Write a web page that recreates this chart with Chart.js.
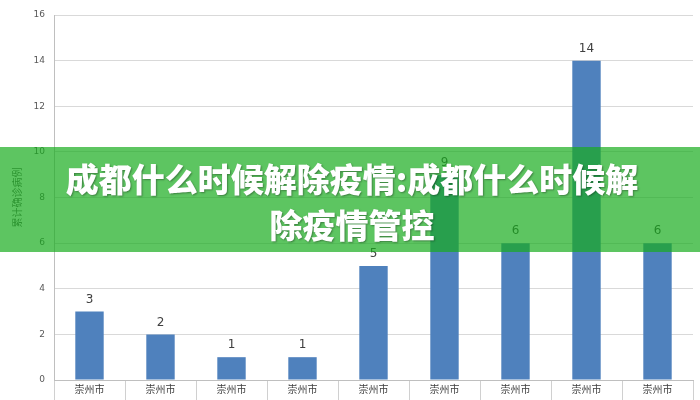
<!DOCTYPE html>
<html lang="zh">
<head>
  <meta charset="UTF-8">
  <title>成都什么时候解除疫情</title>
  <script src="https://cdn.jsdelivr.net/npm/chart.js"></script>
  <style>
    /* 整体布局：700x400 画布 + 绿色标题横幅 */
    body {
      margin: 0;
      background: #fff;
    }
    .wrap {
      position: relative;
      width: 700px;
      height: 400px;
      overflow: hidden;
    }
    .banner {
      position: absolute;
      left: 0;
      top: 147px;
      width: 700px;
      height: 105px;
      background: rgba(24, 172, 30, 0.7);
      color: #fff;
      font-family: 'Noto Sans CJK SC', sans-serif;
      font-weight: 900;
      font-size: 33px;
      line-height: 46px;
      text-align: center;
      padding-top: 8px;
      padding-left: 4px;
      box-sizing: border-box;
      white-space: nowrap;
      text-shadow: 1px 1px 2px rgba(0,0,0,0.35);
    }
  </style>
</head>
<body>
  <div class="wrap">
    <canvas id="chart" width="700" height="400"></canvas>
    <div class="banner">成都什么时候解除疫情:成都什么时候解<br>除疫情管控</div>
  </div>

  <script>
    // 数据
    const categories = ['崇州市', '崇州市', '崇州市', '崇州市', '崇州市', '崇州市', '崇州市', '崇州市', '崇州市'];
    const cases = [3, 2, 1, 1, 5, 9, 6, 14, 6];
    const yTicks = [0, 2, 4, 6, 8, 10, 12, 14, 16];
    const yTitle = '累计确诊病例';

    // 柱顶数值标签
    const valueLabels = {
      id: 'valueLabels',
      afterDatasetsDraw(chart) {
        const ctx = chart.ctx;
        const meta = chart.getDatasetMeta(0);
        ctx.save();
        ctx.font = '12px "DejaVu Sans", sans-serif';
        ctx.fillStyle = '#404040';
        ctx.textAlign = 'center';
        ctx.textBaseline = 'bottom';
        meta.data.forEach((bar, i) => {
          ctx.fillText(cases[i], bar.x, bar.y - 6);
        });
        ctx.restore();
      }
    };

    new Chart(document.getElementById('chart'), {
      type: 'bar',
      data: {
        labels: categories,
        datasets: [{
          data: cases,
          backgroundColor: '#4f81bd',
          barPercentage: 0.4,
          categoryPercentage: 1.0
        }]
      },
      options: {
        responsive: false,
        animation: false,
        layout: { padding: { top: 15, right: 7, left: 0, bottom: 0 } },
        plugins: {
          legend: { display: false },
          tooltip: { enabled: false }
        },
        scales: {
          x: {
            afterFit(axis) { axis.height = 20; },
            grid: {
              offset: true,
              drawOnChartArea: false,
              tickLength: 30,
              color: '#d0d0d0'
            },
            border: { color: '#bfbfbf' },
            ticks: {
              padding: -27,
              color: '#404040',
              font: { size: 10, family: '"Noto Sans CJK SC", sans-serif' }
            }
          },
          y: {
            min: 0,
            max: 16,
            afterFit(axis) { axis.width = 54; },
            afterBuildTicks(axis) { axis.ticks = yTicks.map(v => ({ value: v })); },
            grid: { color: '#d9d9d9', tickLength: 0 },
            border: { color: '#bfbfbf' },
            ticks: {
              padding: 9,
              color: '#595959',
              font: { size: 9, family: '"DejaVu Sans", sans-serif' }
            },
            title: {
              display: true,
              text: yTitle,
              color: '#595959',
              padding: { top: 11, bottom: 0 },
              font: { size: 10, family: '"Noto Sans CJK SC", sans-serif' }
            }
          }
        }
      },
      plugins: [valueLabels]
    });
  </script>
</body>
</html>
